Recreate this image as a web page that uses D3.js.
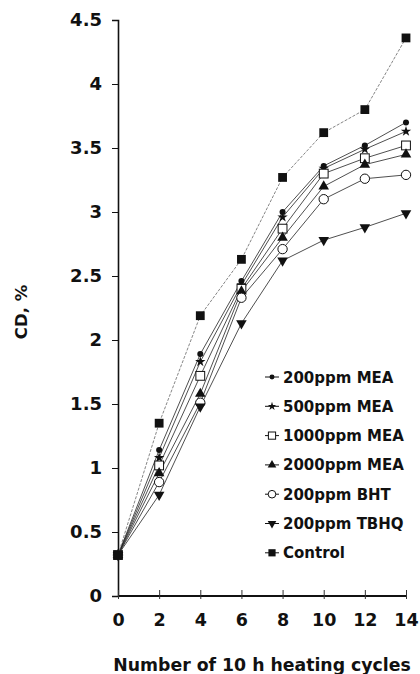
<!DOCTYPE html>
<html>
<head>
<meta charset="utf-8">
<script src="https://cdn.jsdelivr.net/npm/d3@7"></script>
<style>
  body { margin: 0; background: #fff; }
  text { font-family: "DejaVu Sans", Arial, sans-serif; font-weight: bold; fill: #111; }
</style>
</head>
<body>
<div id="plot"></div>
<script>
const FRAME_WIDTH = 420;
const FRAME_HEIGHT = 674;
const MARGIN = {left: 118, right: 12, top: 20, bottom: 78};

// data
const cycles = [0, 2, 4, 6, 8, 10, 12, 14];
const mea200 = [0.32, 1.14, 1.89, 2.46, 3.00, 3.36, 3.52, 3.70];
const mea500 = [0.32, 1.08, 1.83, 2.43, 2.96, 3.34, 3.49, 3.63];
const mea1000 = [0.32, 1.02, 1.72, 2.40, 2.87, 3.30, 3.42, 3.52];
const mea2000 = [0.32, 0.96, 1.58, 2.38, 2.80, 3.20, 3.37, 3.45];
const bht200 = [0.32, 0.89, 1.51, 2.33, 2.71, 3.10, 3.26, 3.29];
const tbhq200 = [0.32, 0.79, 1.48, 2.13, 2.62, 2.78, 2.88, 2.99];
const control = [0.32, 1.35, 2.19, 2.63, 3.27, 3.62, 3.80, 4.36];

const seriesNames = ["200ppm MEA", "500ppm MEA", "1000ppm MEA", "2000ppm MEA",
                     "200ppm BHT", "200ppm TBHQ", "Control"];
const seriesValues = [mea200, mea500, mea1000, mea2000, bht200, tbhq200, control];
const markers = ["dot", "star", "square-open", "triangle", "circle-open", "triangle-down", "square"];

const xTicks = [0, 2, 4, 6, 8, 10, 12, 14];
const yTicks = [0, 0.5, 1, 1.5, 2, 2.5, 3, 3.5, 4, 4.5];

const VIS_WIDTH = FRAME_WIDTH - MARGIN.left - MARGIN.right;
const VIS_HEIGHT = FRAME_HEIGHT - MARGIN.top - MARGIN.bottom;

const FRAME = d3.select("#plot")
  .append("svg")
    .attr("width", FRAME_WIDTH)
    .attr("height", FRAME_HEIGHT);

const X_SCALE = d3.scaleLinear().domain([0, 14]).range([0, 288]);
const Y_SCALE = d3.scaleLinear().domain([0, 4.5]).range([VIS_HEIGHT, 0]);

const G = FRAME.append("g")
  .attr("transform", "translate(" + MARGIN.left + "," + MARGIN.top + ")");

// y axis
const yAxis = G.append("g")
  .call(d3.axisLeft(Y_SCALE).tickValues(yTicks).tickSize(6).tickPadding(10)
    .tickFormat(d => d3.format("")(d)));
yAxis.select(".domain").attr("stroke", "#111").attr("stroke-width", 1.6);
yAxis.selectAll("line").attr("stroke", "#111");
yAxis.selectAll("text").attr("font-size", "18px");

// x axis
const xAxis = G.append("g")
  .attr("transform", "translate(0," + VIS_HEIGHT + ")")
  .call(d3.axisBottom(X_SCALE).tickValues(xTicks).tickSize(-5).tickPadding(18));
xAxis.select(".domain").attr("stroke", "#111").attr("stroke-width", 2)
  .attr("d", "M0,0H" + X_SCALE(14));
xAxis.selectAll("line").attr("stroke", "#333").attr("y2", -6).attr("y1", 3);
xAxis.selectAll("text").attr("font-size", "17.5px");

// titles
FRAME.append("text")
  .attr("x", 262).attr("y", 671)
  .attr("text-anchor", "middle")
  .attr("font-size", "17.3px")
  .text("Number of 10 h heating cycles");

FRAME.append("text")
  .attr("transform", "translate(27,312) rotate(-90)")
  .attr("text-anchor", "middle")
  .attr("font-size", "16.5px")
  .text("CD, %");

// marker drawing
function drawMarker(sel, type, size) {
  const s = size;
  if (type === "dot") {
    sel.append("circle").attr("r", s * 0.55).attr("fill", "#111");
  } else if (type === "star") {
    sel.append("path").attr("d", d3.symbol(d3.symbolStar, s * s * 1.1)())
      .attr("fill", "#111");
  } else if (type === "square-open") {
    sel.append("rect").attr("x", -s * 0.8).attr("y", -s * 0.8)
      .attr("width", s * 1.6).attr("height", s * 1.6)
      .attr("fill", "#fff").attr("stroke", "#111").attr("stroke-width", 1);
  } else if (type === "triangle") {
    sel.append("path").attr("d", d3.symbol(d3.symbolTriangle, s * s * 1.6)())
      .attr("fill", "#111");
  } else if (type === "circle-open") {
    sel.append("circle").attr("r", s * 0.85)
      .attr("fill", "#fff").attr("stroke", "#111").attr("stroke-width", 1);
  } else if (type === "triangle-down") {
    sel.append("path").attr("d", d3.symbol(d3.symbolTriangle, s * s * 1.6)())
      .attr("transform", "rotate(180)")
      .attr("fill", "#111");
  } else if (type === "square") {
    sel.append("rect").attr("x", -s * 0.8).attr("y", -s * 0.8)
      .attr("width", s * 1.6).attr("height", s * 1.6)
      .attr("fill", "#111");
  }
}

const line = d3.line()
  .x((d, i) => X_SCALE(cycles[i]))
  .y(d => Y_SCALE(d));

seriesValues.forEach((vals, k) => {
  G.append("path")
    .datum(vals)
    .attr("d", line)
    .attr("fill", "none")
    .attr("stroke", k === 6 ? "#666" : "#222")
    .attr("stroke-width", 0.8)
    .attr("stroke-dasharray", k === 6 ? "3,1.5" : null);
});

seriesValues.forEach((vals, k) => {
  vals.forEach((v, i) => {
    const m = G.append("g")
      .attr("transform", "translate(" + X_SCALE(cycles[i]) + "," + Y_SCALE(v) + ")");
    drawMarker(m, markers[k], 5.5);
  });
});

// legend
const LEG = FRAME.append("g").attr("transform", "translate(264,377)");
seriesNames.forEach((name, k) => {
  const row = LEG.append("g").attr("transform", "translate(0," + (k * 29.3) + ")");
  row.append("line").attr("x1", 1).attr("x2", 15).attr("y1", 0).attr("y2", 0)
    .attr("stroke", "#111").attr("stroke-width", 1);
  const m = row.append("g").attr("transform", "translate(8,0)");
  drawMarker(m, markers[k], 4.5);
  row.append("text")
    .attr("x", 19).attr("y", 5.5)
    .attr("font-size", "15px")
    .text(name);
});
</script>
</body>
</html>
